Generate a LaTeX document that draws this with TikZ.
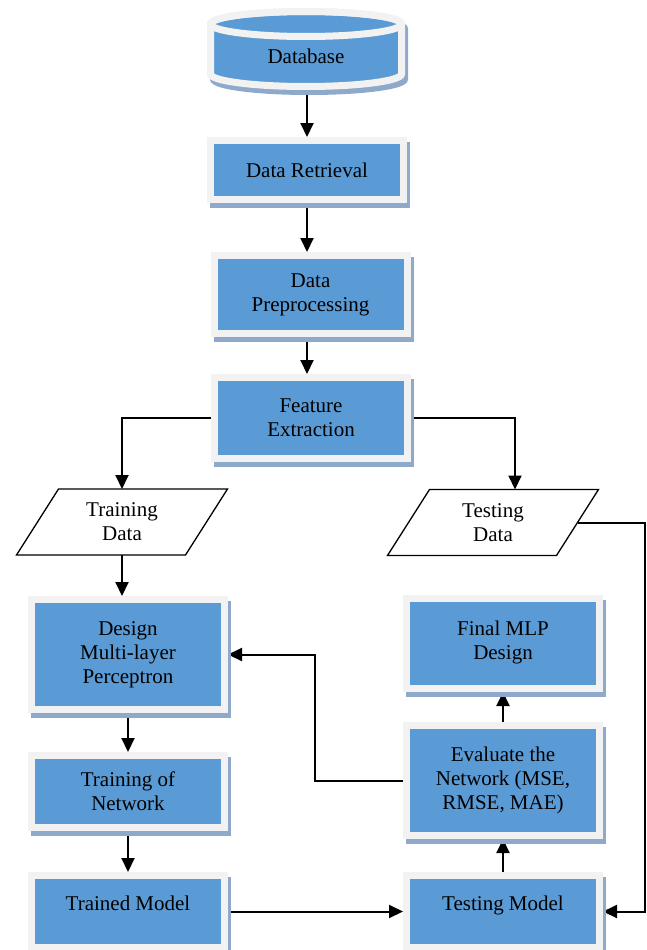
\documentclass[tikz,border=0pt]{standalone}
\usepackage{fontspec}
\setmainfont{Liberation Serif}
\usetikzlibrary{shadows,arrows.meta,backgrounds}
\definecolor{boxblue}{HTML}{5B9BD5}
\definecolor{boxrim}{HTML}{F2F2F2}
\definecolor{boxshade}{HTML}{8EA9C9}
\tikzset{
  procbox/.style={rectangle, draw=boxrim, line width=7pt, fill=boxblue,
    minimum width=193pt, align=center, inner sep=2pt, outer sep=3.5pt,
    drop shadow={shadow xshift=3pt, shadow yshift=-5pt, fill=boxshade,
      draw=boxshade, line width=7pt, opacity=1}},
  iobox/.style={rectangle, minimum width=169pt, minimum height=66pt,
    align=center, inner sep=1pt, outer sep=0pt},
  ioline/.style={draw=black, line width=1.3pt, fill=white, line join=miter},
  arr/.style={line width=2pt, -{Triangle[length=14pt,width=13pt]}},
}
% slanted data box round a named node
\newcommand{\slantbox}[1]{%
  \path[ioline] ([xshift=-21pt]#1.south west) -- ([xshift=21pt]#1.north west)
    -- ([xshift=21pt]#1.north east) -- ([xshift=-21pt]#1.south east) -- cycle;}
\begin{document}
\begin{tikzpicture}[x=1pt, y=-1pt, font=\fontsize{21}{24}\selectfont]
  \useasboundingbox (0,0) rectangle (646,950);
  % database drum
  \begin{scope}[shift={(3,5)}]
    \draw[boxshade, line width=7pt, fill=boxshade] (210.5,24) -- (210.5,74)
      arc[start angle=180, end angle=0, x radius=95.5, y radius=12.5] -- (401.5,24)
      arc[start angle=0, end angle=-180, x radius=95.5, y radius=12.5] -- cycle;
  \end{scope}
  \draw[boxrim, line width=7pt, fill=boxblue] (210.5,24) -- (210.5,74)
    arc[start angle=180, end angle=0, x radius=95.5, y radius=12.5] -- (401.5,24)
    arc[start angle=0, end angle=-180, x radius=95.5, y radius=12.5] -- cycle;
  \draw[boxrim, line width=7pt] (306,24) ellipse[x radius=95.5, y radius=12.5];
  \node (db) at (306,56) {Database};
  \coordinate (dbbot) at (307,95);

  % steps
  \node[procbox, minimum height=59pt] (dr) at (307,170) {Data Retrieval};
  \node[procbox, minimum height=78pt] (dp) at (310.5,294.5) {Data\\Preprocessing};
  \node[procbox, minimum height=81pt] (fe) at (311,418) {Feature\\Extraction};
  \node[iobox] (trd) at (122,522) {};
  \slantbox{trd}
  \node[iobox] at (trd) {Training\\Data};
  \node[iobox] (ted) at (493,522.5) {};
  \slantbox{ted}
  \node[iobox] at (ted) {Testing\\Data};
  \node[procbox, minimum height=110pt] (mlp) at (128,654.5) {Design\\Multi-layer\\Perceptron};
  \node[procbox, minimum height=72pt] (ton) at (128,791.5) {Training of\\Network};
  \node[procbox, minimum height=72pt, text depth=16pt] (tm) at (128,911.5) {Trained Model};
  \node[procbox, minimum height=72pt, text depth=16pt] (tsm) at (503,911.5) {Testing Model};
  \node[procbox, minimum height=110pt] (ev) at (503,780.5) {Evaluate the\\Network (MSE,\\RMSE, MAE)};
  \node[procbox, minimum height=90pt, text depth=6pt] (fin) at (503,643.5) {Final MLP\\Design};

  % connectors
  \begin{pgfonlayer}{background}
    \draw[arr] (dbbot) -- (dr.north);
    \draw[arr] (dr.south) -- (dr.south |- dp.north);
    \draw[arr] (dr.south |- dp.south) -- (dr.south |- fe.north);
    \draw[arr] (fe.west) -| (trd.north);
    \draw[arr] (fe.east) -| ([xshift=22pt]ted.north);
    \draw[arr] (trd.south) -- (trd.south |- mlp.north);
    \draw[arr] (mlp.south) -- (ton.north);
    \draw[arr] (ton.south) -- (tm.north);
    \draw[arr] (tm.east) -- (tsm.west);
    \draw[arr] (ted.east) -| ([xshift=42pt]tsm.east) -- (tsm.east);
    \draw[arr] (tsm.north) -- (ev.south);
    \draw[arr] (ev.north) -- (fin.south);
    \draw[arr] (ev.west) -- ++(-88,0) |- (mlp.east);
  \end{pgfonlayer}
\end{tikzpicture}
\end{document}
